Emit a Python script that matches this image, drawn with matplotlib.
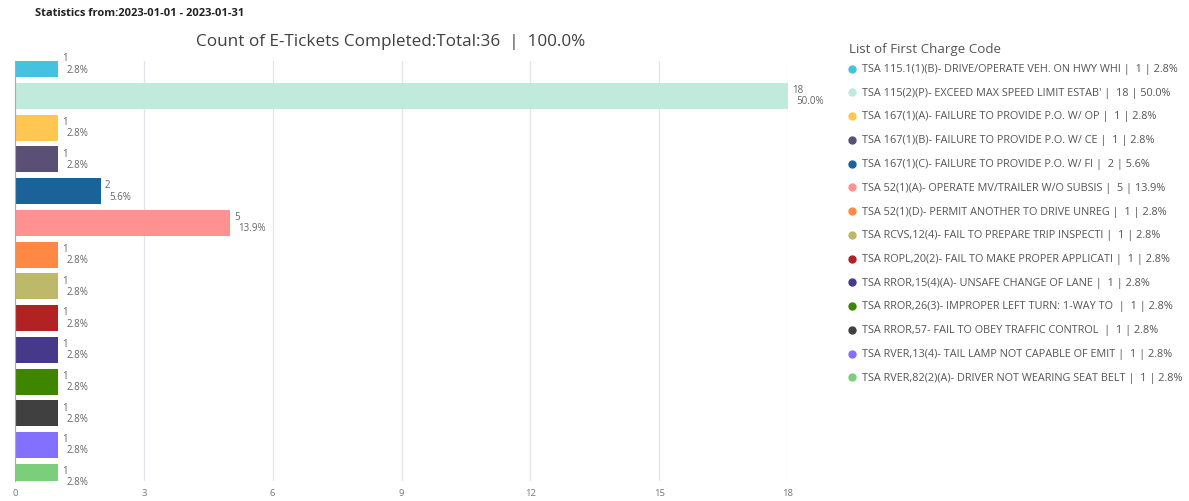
import matplotlib
matplotlib.use("Agg")
import matplotlib.pyplot as plt
from matplotlib.lines import Line2D

plt.rcParams['font.family'] = ['Open Sans', 'DejaVu Sans']

categories = [
    "TSA 115.1(1)(B)- DRIVE/OPERATE VEH. ON HWY WHI",
    "TSA 115(2)(P)- EXCEED MAX SPEED LIMIT ESTAB'",
    "TSA 167(1)(A)- FAILURE TO PROVIDE P.O. W/ OP",
    "TSA 167(1)(B)- FAILURE TO PROVIDE P.O. W/ CE",
    "TSA 167(1)(C)- FAILURE TO PROVIDE P.O. W/ FI",
    "TSA 52(1)(A)- OPERATE MV/TRAILER W/O SUBSIS",
    "TSA 52(1)(D)- PERMIT ANOTHER TO DRIVE UNREG",
    "TSA RCVS,12(4)- FAIL TO PREPARE TRIP INSPECTI",
    "TSA ROPL,20(2)- FAIL TO MAKE PROPER APPLICATI",
    "TSA RROR,15(4)(A)- UNSAFE CHANGE OF LANE",
    "TSA RROR,26(3)- IMPROPER LEFT TURN: 1-WAY TO ",
    "TSA RROR,57- FAIL TO OBEY TRAFFIC CONTROL ",
    "TSA RVER,13(4)- TAIL LAMP NOT CAPABLE OF EMIT",
    "TSA RVER,82(2)(A)- DRIVER NOT WEARING SEAT BELT",
]
values = [1, 18, 1, 1, 2, 5, 1, 1, 1, 1, 1, 1, 1, 1]
percents = ["2.8%", "50.0%", "2.8%", "2.8%", "5.6%", "13.9%", "2.8%",
            "2.8%", "2.8%", "2.8%", "2.8%", "2.8%", "2.8%", "2.8%"]
colors = ["#45C2E0", "#C0EADB", "#FFC751", "#5A4F74", "#1A6399", "#FF9191",
          "#FF8845", "#BEB86A", "#B22222", "#47398A", "#3E8500", "#404040",
          "#8470FF", "#7BCF7B"]
x_ticks = [0, 3, 6, 9, 12, 15, 18]
title = "Count of E-Tickets Completed:Total:36  |  100.0%"
subtitle = "Statistics from:2023-01-01 - 2023-01-31"
legend_title = "List of First Charge Code"

W, H = 1189, 502
fig = plt.figure(figsize=(W / 100, H / 100), dpi=100)
ax = fig.add_axes([15 / W, 1 - 482 / H, (788 - 15) / W, (482 - 62) / H])

ypos = list(range(len(values)))
ax.barh(ypos, values, height=0.82, color=colors, zorder=3)
ax.set_ylim(13.13, -0.1)
ax.set_xlim(0, 18)
ax.set_xticks(x_ticks)
ax.set_xticklabels([str(t) for t in x_ticks])
ax.set_yticks([])
ax.tick_params(axis='x', length=0, pad=5, labelsize=6.8, labelcolor="#777777")
ax.grid(axis='x', color="#E3E3F0", linewidth=0.9, zorder=0)
for s in ["top", "right", "bottom"]:
    ax.spines[s].set_visible(False)
ax.spines["left"].set_color("#AAAAAA")
ax.spines["left"].set_linewidth(0.8)
ax.spines["left"].set_zorder(4)

for y, v, p in zip(ypos, values, percents):
    ax.annotate(str(v), (v, y), xytext=(3, 4.5), textcoords="offset points",
                ha="left", va="center", fontsize=7, color="#666666",
                annotation_clip=False)
    ax.annotate(p, (v, y), xytext=(6, -3.5), textcoords="offset points",
                ha="left", va="center", fontsize=7, color="#666666",
                annotation_clip=False)

fig.text(391 / W, 1 - 42 / H, title, ha="center", va="center",
         fontsize=12.3, color="#404040")
fig.text(35 / W, 1 - 14 / H, subtitle, ha="left", va="center",
         fontsize=8, fontweight="bold", color="#222222")

fig.text(849 / W, 1 - 49 / H, legend_title, ha="left", va="center",
         fontsize=9.6, color="#555555")
for i, (c, v, p, col) in enumerate(zip(categories, values, percents, colors)):
    yy = 1 - (69.5 + i * 23.75) / H
    fig.add_artist(Line2D([852 / W], [yy], transform=fig.transFigure,
                          marker='o', markersize=5, color=col, linestyle='none'))
    fig.text(862 / W, yy, f"{c} |  {v} | {p}", ha="left", va="center",
             fontsize=7.8, color="#555555")

fig.savefig("out.png", dpi=100)
